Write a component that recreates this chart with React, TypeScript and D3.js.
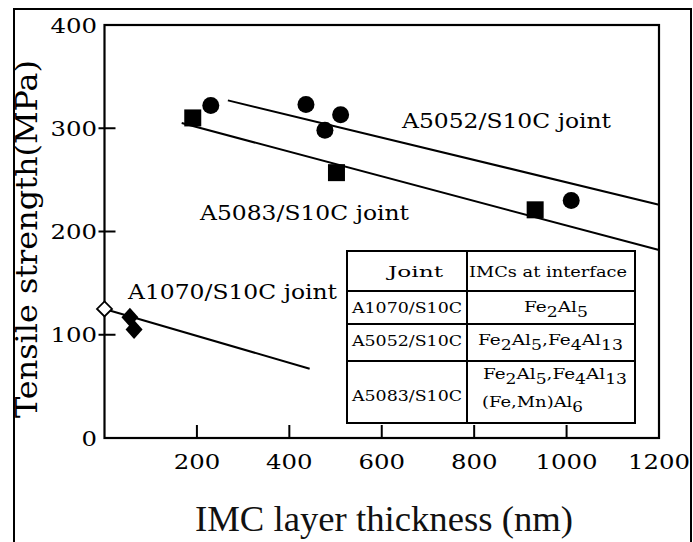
import React, {useRef, useEffect} from 'react';
import * as d3 from 'd3';

const W = 693;
const H = 542;

const xTicks = [200, 400, 600, 800, 1000, 1200];
const yTicks = [0, 100, 200, 300, 400];

// A5052/S10C joint (filled circles)
const a5052X = [230, 436, 477, 511, 1010];
const a5052Y = [322, 323, 298, 313, 230];
// A5083/S10C joint (filled squares)
const a5083X = [191, 502, 932];
const a5083Y = [310, 257, 221];
// A1070/S10C joint (filled diamonds)
const a1070X = [55, 64];
const a1070Y = [117, 105];
// base metal (open diamond)
const baseX = [0];
const baseY = [125];

// regression lines: start / end
const fit5052X = [267, 1200];
const fit5052Y = [327, 226];
const fit5083X = [167, 1200];
const fit5083Y = [305, 182];
const fit1070X = [0, 444];
const fit1070Y = [125, 67];

const jointNames = ['A1070/S10C', 'A5052/S10C', 'A5083/S10C'];

const serif = '"DejaVu Serif", serif';

const setupChart = (el: SVGSVGElement) => {
  const svg = d3.select(el);
  svg.selectAll('*').remove();

  const x = d3.scaleLinear().domain([0, 1200]).range([104.5, 659]);
  const y = d3.scaleLinear().domain([0, 400]).range([438, 25]);

  svg.append('rect').attr('width', W).attr('height', H).attr('fill', '#fff');

  // outer frame
  svg
  .append('rect')
  .attr('x', 14)
  .attr('y', 9)
  .attr('width', 677)
  .attr('height', 560)
  .attr('fill', 'none')
  .attr('stroke', '#000')
  .attr('stroke-width', 2);

  // plot box
  svg
  .append('rect')
  .attr('x', x(0))
  .attr('y', y(400))
  .attr('width', x(1200) - x(0))
  .attr('height', y(0) - y(400))
  .attr('fill', 'none')
  .attr('stroke', '#000')
  .attr('stroke-width', 2.2);

  // x ticks (inward)
  svg
  .append('g')
  .selectAll('line')
  .data(xTicks.slice(0, -1))
  .enter()
  .append('line')
  .attr('x1', d => x(d))
  .attr('x2', d => x(d))
  .attr('y1', y(0))
  .attr('y2', y(0) - 13)
  .attr('stroke', '#000')
  .attr('stroke-width', 2);

  svg
  .append('g')
  .selectAll('text')
  .data(xTicks)
  .enter()
  .append('text')
  .attr('x', d => x(d))
  .attr('y', 469)
  .attr('text-anchor', 'middle')
  .attr('font-family', serif)
  .attr('font-size', 21)
  .attr('textLength', d => String(d).length * 15.5)
  .attr('lengthAdjust', 'spacingAndGlyphs')
  .text(d => d);

  // y ticks (crossing)
  svg
  .append('g')
  .selectAll('line')
  .data(yTicks.slice(1, -1))
  .enter()
  .append('line')
  .attr('x1', x(0) - 6)
  .attr('x2', x(0) + 11)
  .attr('y1', d => y(d))
  .attr('y2', d => y(d))
  .attr('stroke', '#000')
  .attr('stroke-width', 2);

  svg
  .append('g')
  .selectAll('text')
  .data(yTicks)
  .enter()
  .append('text')
  .attr('x', 97)
  .attr('y', d => y(d) + 7.5)
  .attr('text-anchor', 'end')
  .attr('font-family', serif)
  .attr('font-size', 21)
  .attr('textLength', d => String(d).length * 15.5)
  .attr('lengthAdjust', 'spacingAndGlyphs')
  .text(d => d);

  // axis titles
  svg
  .append('text')
  .attr('transform', 'translate(37,239) rotate(-90)')
  .attr('text-anchor', 'middle')
  .attr('font-family', serif)
  .attr('font-size', 29)
  .attr('textLength', 358)
  .attr('lengthAdjust', 'spacingAndGlyphs')
  .text('Tensile strength(MPa)');

  svg
  .append('text')
  .attr('x', 384)
  .attr('y', 531)
  .attr('text-anchor', 'middle')
  .attr('font-family', '"Liberation Serif", serif')
  .attr('font-size', 35)
  .attr('textLength', 378)
  .attr('lengthAdjust', 'spacingAndGlyphs')
  .attr('fill', '#111')
  .text('IMC layer thickness (nm)');

  // fit lines
  const line = d3
  .line<number[]>()
  .x(d => d[0])
  .y(d => d[1]);
  const fits = [
    [fit5052X, fit5052Y],
    [fit5083X, fit5083Y],
    [fit1070X, fit1070Y],
  ];
  svg
  .append('g')
  .selectAll('path')
  .data(fits)
  .enter()
  .append('path')
  .attr('d', ([xs, ys]) => line(xs.map((v, i) => [x(v), y(ys[i])])))
  .attr('fill', 'none')
  .attr('stroke', '#000')
  .attr('stroke-width', 2);

  // markers
  svg
  .append('g')
  .selectAll('circle')
  .data(a5052X)
  .enter()
  .append('circle')
  .attr('cx', d => x(d))
  .attr('cy', (d, i) => y(a5052Y[i]))
  .attr('r', 8.5)
  .attr('fill', '#000');

  svg
  .append('g')
  .selectAll('rect')
  .data(a5083X)
  .enter()
  .append('rect')
  .attr('x', d => x(d) - 8.5)
  .attr('y', (d, i) => y(a5083Y[i]) - 8.5)
  .attr('width', 17)
  .attr('height', 17)
  .attr('fill', '#000');

  const diamond = (cx: number, cy: number, hw: number, hh: number) =>
    `M${cx},${cy - hh}L${cx + hw},${cy}L${cx},${cy + hh}L${cx - hw},${cy}Z`;

  svg
  .append('g')
  .selectAll('path')
  .data(a1070X)
  .enter()
  .append('path')
  .attr('d', (d, i) => diamond(x(d), y(a1070Y[i]), 8.5, 9.5))
  .attr('fill', '#000');

  svg
  .append('g')
  .selectAll('path')
  .data(baseX)
  .enter()
  .append('path')
  .attr('d', (d, i) => diamond(x(d), y(baseY[i]), 7.5, 7.5))
  .attr('fill', '#fff')
  .attr('stroke', '#000')
  .attr('stroke-width', 1.8);

  // series labels
  const labels = [
    {t: 'A5052/S10C joint', x: 402, y: 128},
    {t: 'A5083/S10C joint', x: 200, y: 220},
    {t: 'A1070/S10C joint', x: 128, y: 299},
  ];
  svg
  .append('g')
  .selectAll('text')
  .data(labels)
  .enter()
  .append('text')
  .attr('x', d => d.x)
  .attr('y', d => d.y)
  .attr('font-family', serif)
  .attr('font-size', 21)
  .attr('textLength', 209)
  .attr('lengthAdjust', 'spacingAndGlyphs')
  .text(d => d.t);

  // IMC table
  const tb = svg.append('g');
  const tL = 347, tR = 635, tT = 251, tB = 423, tC = 467;
  const rows = [291, 324, 361];
  tb.append('rect')
  .attr('x', tL)
  .attr('y', tT)
  .attr('width', tR - tL)
  .attr('height', tB - tT)
  .attr('fill', '#fff')
  .attr('stroke', '#000')
  .attr('stroke-width', 2);
  tb.append('line').attr('x1', tC).attr('x2', tC).attr('y1', tT).attr('y2', tB)
  .attr('stroke', '#000').attr('stroke-width', 2);
  rows.forEach(r =>
    tb.append('line').attr('x1', tL).attr('x2', tR).attr('y1', r).attr('y2', r)
    .attr('stroke', '#000').attr('stroke-width', 2));

  const cell = (tx: number, ty: number, len: number, parts: [string, boolean][]) => {
    const t = tb.append('text')
    .attr('x', tx)
    .attr('y', ty)
    .attr('font-family', serif)
    .attr('font-size', 15)
    .attr('textLength', len)
    .attr('lengthAdjust', 'spacingAndGlyphs');
    let sub = false;
    parts.forEach(([s, isSub]) => {
      const dy = isSub === sub ? 0 : isSub ? 5 : -5;
      t.append('tspan')
      .attr('dy', dy)
      .attr('font-size', isSub ? 14 : 15)
      .text(s);
      sub = isSub;
    });
  };

  cell(388, 277, 55, [['Joint', false]]);
  cell(469, 277, 158, [['IMCs at interface', false]]);
  cell(352, 313, 110, [[jointNames[0], false]]);
  cell(352, 346, 110, [[jointNames[1], false]]);
  cell(352, 401, 110, [[jointNames[2], false]]);
  cell(524, 312, 64, [['Fe', false], ['2', true], ['Al', false], ['5', true]]);
  cell(478, 345, 145, [
    ['Fe', false], ['2', true], ['Al', false], ['5', true], [',Fe', false], ['4', true], ['Al', false], ['13', true],
  ]);
  cell(483, 379, 144, [
    ['Fe', false], ['2', true], ['Al', false], ['5', true], [',Fe', false], ['4', true], ['Al', false], ['13', true],
  ]);
  cell(482, 407, 101, [['(Fe,Mn)Al', false], ['6', true]]);
};

export default function App() {
  const ref = useRef<SVGSVGElement>(null);
  useEffect(() => {
    document.body.style.margin = '0';
    if (ref.current) setupChart(ref.current);
  }, []);
  return <svg ref={ref} width={W} height={H} style={{display: 'block'}} />;
}
